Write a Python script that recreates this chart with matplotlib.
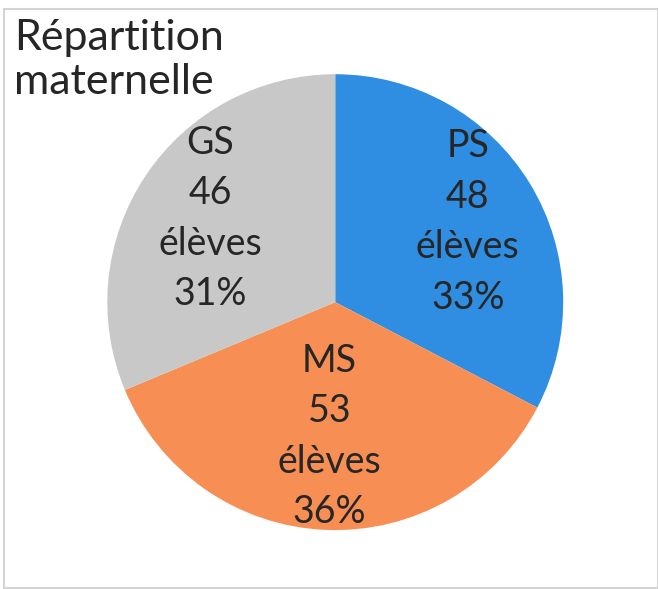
import numpy as np
import matplotlib.pyplot as plt
from matplotlib.patches import Rectangle

# Répartition des élèves en maternelle
categories = ['PS', 'MS', 'GS']
eleves = [48, 53, 46]
colors = ['#2F8EE2', '#F78F55', '#C8C8C8']

total = sum(eleves)
labels = [f"{c}\n{n}\nélèves\n{round(100 * n / total)}%" for c, n in zip(categories, eleves)]

plt.rcParams['font.family'] = ['Lato', 'DejaVu Sans']

fig = plt.figure(figsize=(6.58, 5.89), dpi=100)

# light frame from the scan
fig.patches.append(Rectangle((0.006, 0.002), 0.994, 0.983, transform=fig.transFigure,
                             fill=False, edgecolor='#d4d4d4', linewidth=1.5))

ax = fig.add_axes([0.163, 0.100, 0.693, 0.774])
wedges, _ = ax.pie(eleves, colors=colors, startangle=90, counterclock=False)

# labels inside each slice, a bit closer to the centre for the big one
label_r = [0.68, 0.59, 0.66]
for w, lab, r in zip(wedges, labels, label_r):
    ang = np.deg2rad((w.theta1 + w.theta2) / 2)
    ax.text(r * np.cos(ang), r * np.sin(ang), lab, fontsize=27, color='#262626',
            ha='center', va='center', linespacing=1.5)

ax.set_xlim(-1, 1)
ax.set_ylim(-1, 1)
ax.set_aspect('equal')

fig.text(0.022, 0.968, "Répartition\nmaternelle", fontsize=31, color='#262626',
         ha='left', va='top', linespacing=1.2)

fig.savefig('out.png', dpi=100)
